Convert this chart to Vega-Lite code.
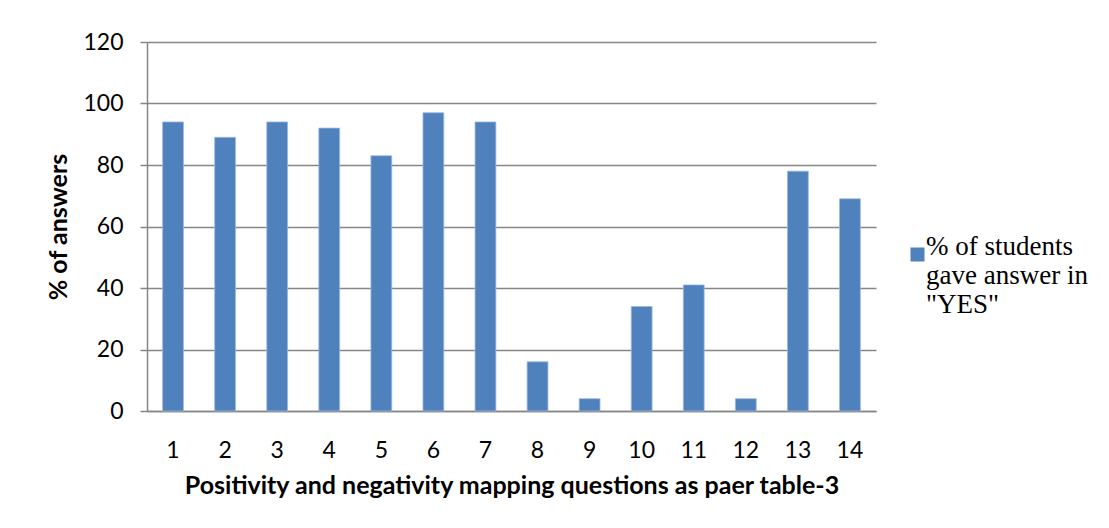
{
  "$schema": "https://vega.github.io/schema/vega-lite/v6.json",
  "width": 729,
  "height": 369,
  "autosize": {"type": "none"},
  "padding": {"left": 147, "top": 42, "right": 233, "bottom": 117},
  "background": "white",
  "config": {"view": {"stroke": null}},
  "data": {"values": [
    {"q": "1", "pct": 94, "series": "yes"},
    {"q": "2", "pct": 89, "series": "yes"},
    {"q": "3", "pct": 94, "series": "yes"},
    {"q": "4", "pct": 92, "series": "yes"},
    {"q": "5", "pct": 83, "series": "yes"},
    {"q": "6", "pct": 97, "series": "yes"},
    {"q": "7", "pct": 94, "series": "yes"},
    {"q": "8", "pct": 16, "series": "yes"},
    {"q": "9", "pct": 4, "series": "yes"},
    {"q": "10", "pct": 34, "series": "yes"},
    {"q": "11", "pct": 41, "series": "yes"},
    {"q": "12", "pct": 4, "series": "yes"},
    {"q": "13", "pct": 78, "series": "yes"},
    {"q": "14", "pct": 69, "series": "yes"}
  ]},
  "mark": {"type": "bar", "stroke": "#9DB9DE", "strokeWidth": 0.8},
  "encoding": {
    "x": {
      "field": "q", "type": "ordinal", "sort": null,
      "scale": {"paddingInner": 0.6, "paddingOuter": 0.3},
      "axis": {
        "title": "Positivity and negativity mapping questions as paer table-3",
        "titleFont": "Lato", "titleFontSize": 25, "titleFontWeight": "bold", "titleColor": "black",
        "titlePadding": 11,
        "labelFont": "Lato", "labelFontSize": 23, "labelColor": "black", "labelAngle": 0,
        "labelPadding": 28, "labelBaseline": "top",
        "ticks": false, "domainColor": "#868686", "domainWidth": 1.5, "grid": false
      }
    },
    "y": {
      "field": "pct", "type": "quantitative",
      "scale": {"domain": [0, 120], "nice": false},
      "axis": {
        "title": "% of answers", "values": [0, 20, 40, 60, 80, 100, 120],
        "titleFont": "Lato", "titleFontSize": 25, "titleFontWeight": "bold", "titleColor": "black",
        "titlePadding": 11,
        "labelFont": "Lato", "labelFontSize": 23, "labelColor": "black", "labelPadding": 17,
        "tickSize": 7, "tickColor": "#868686", "tickWidth": 1.5,
        "domainColor": "#868686", "domainWidth": 1.5,
        "grid": true, "gridColor": "#868686", "gridWidth": 1.5
      }
    },
    "color": {
      "field": "series", "type": "nominal",
      "scale": {"range": ["#4F81BD"]},
      "legend": {
        "title": null, "orient": "none", "legendX": 757, "legendY": 199,
        "symbolType": "square", "symbolSize": 196, "symbolStrokeWidth": 0,
        "labelExpr": "['% of students', 'gave answer in', '\"YES\"']",
        "labelFont": "Liberation Serif", "labelFontSize": 27, "labelColor": "black",
        "labelOffset": -5, "labelLimit": 300, "labelBaseline": "alphabetic",
        "labelLineHeight": 30
      }
    }
  }
}
